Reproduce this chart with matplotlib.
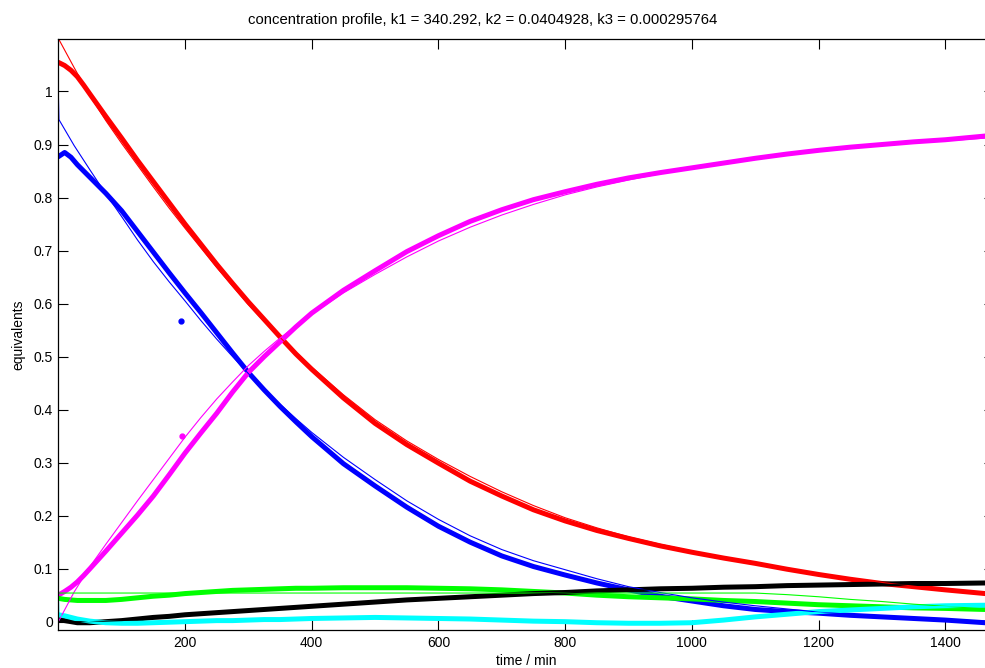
import numpy as np
import matplotlib
matplotlib.use("Agg")
import matplotlib.pyplot as plt

plt.rcParams['font.family'] = ['Liberation Sans', 'DejaVu Sans']

t_data = [0, 10, 20, 30, 40, 50, 75, 100, 125, 150, 175, 200, 225, 250, 275, 300, 325, 350, 375, 400,
          450, 500, 550, 600, 650, 700, 750, 800, 850, 900, 950, 1000, 1050, 1100, 1150, 1200,
          1250, 1300, 1350, 1400, 1463]
red_data = [1.055, 1.049, 1.040, 1.028, 1.012, 0.995, 0.953, 0.912, 0.870, 0.830, 0.790, 0.750, 0.712,
            0.674, 0.638, 0.603, 0.570, 0.537, 0.505, 0.476, 0.422, 0.374, 0.334, 0.299, 0.265, 0.237,
            0.211, 0.190, 0.172, 0.157, 0.143, 0.131, 0.120, 0.110, 0.099, 0.089, 0.080, 0.072, 0.066,
            0.060, 0.053]
blue_data = [0.877, 0.885, 0.876, 0.862, 0.850, 0.838, 0.808, 0.775, 0.736, 0.697, 0.658, 0.620, 0.583,
             0.545, 0.507, 0.470, 0.437, 0.406, 0.377, 0.349, 0.298, 0.256, 0.216, 0.180, 0.150, 0.124,
             0.104, 0.088, 0.073, 0.060, 0.048, 0.039, 0.030, 0.023, 0.019, 0.016, 0.012, 0.009, 0.006,
             0.003, -0.002]
magenta_data = [0.050, 0.057, 0.065, 0.075, 0.087, 0.100, 0.133, 0.167, 0.201, 0.237, 0.277, 0.318, 0.356,
                0.393, 0.433, 0.470, 0.500, 0.528, 0.556, 0.582, 0.625, 0.662, 0.698, 0.728, 0.755, 0.777,
                0.796, 0.811, 0.825, 0.837, 0.847, 0.856, 0.865, 0.874, 0.882, 0.889, 0.895, 0.900, 0.905,
                0.909, 0.916]
green_data = [0.044, 0.042, 0.041, 0.040, 0.040, 0.040, 0.040, 0.042, 0.045, 0.048, 0.050, 0.053, 0.055,
              0.057, 0.059, 0.060, 0.061, 0.062, 0.063, 0.063, 0.064, 0.064, 0.064, 0.063, 0.062, 0.060,
              0.057, 0.054, 0.050, 0.047, 0.045, 0.043, 0.040, 0.038, 0.035, 0.032, 0.030, 0.028, 0.026,
              0.025, 0.023]
black_data = [0.004, 0.002, 0.000, -0.002, -0.002, -0.002, 0.000, 0.002, 0.005, 0.008, 0.010, 0.013, 0.015,
              0.017, 0.019, 0.021, 0.023, 0.025, 0.027, 0.029, 0.033, 0.037, 0.041, 0.044, 0.047, 0.050,
              0.053, 0.055, 0.058, 0.060, 0.062, 0.063, 0.065, 0.066, 0.068, 0.069, 0.070, 0.071, 0.072,
              0.072, 0.073]
cyan_data = [0.013, 0.011, 0.008, 0.005, 0.003, 0.001, -0.002, -0.003, -0.003, -0.002, -0.001, 0.000, 0.001,
             0.002, 0.002, 0.003, 0.004, 0.004, 0.005, 0.006, 0.007, 0.008, 0.007, 0.006, 0.005, 0.003,
             0.001, 0.000, -0.002, -0.003, -0.003, -0.002, 0.003, 0.009, 0.014, 0.019, 0.022, 0.025, 0.028,
             0.030, 0.031]

# a couple of stray points
blue_outlier = (194, 0.567)
magenta_outlier = (195, 0.35)

# fitted model curves
t_fit = [0, 1, 25, 50, 75, 100, 125, 150, 175, 200, 225, 250, 275, 300, 325, 350, 375, 400, 450, 500,
         550, 600, 650, 700, 750, 800, 850, 900, 950, 1000, 1050, 1100, 1150, 1200, 1250, 1300, 1350,
         1400, 1463]
red_fit = [1.100, 1.098, 1.045, 0.992, 0.945, 0.902, 0.861, 0.820, 0.780, 0.742, 0.705, 0.668, 0.633,
           0.598, 0.566, 0.536, 0.508, 0.480, 0.428, 0.381, 0.341, 0.306, 0.274, 0.245, 0.219, 0.196,
           0.177, 0.160, 0.146, 0.133, 0.121, 0.110, 0.100, 0.090, 0.082, 0.074, 0.067, 0.061, 0.054]
blue_fit = [1.000, 0.947, 0.898, 0.852, 0.807, 0.764, 0.720, 0.679, 0.641, 0.605, 0.568, 0.533, 0.500,
            0.468, 0.438, 0.410, 0.383, 0.357, 0.310, 0.268, 0.228, 0.193, 0.162, 0.136, 0.115, 0.098,
            0.081, 0.066, 0.055, 0.045, 0.037, 0.030, 0.024, 0.018, 0.014, 0.010, 0.007, 0.004, 0.001]
magenta_fit = [0.000, 0.002, 0.056, 0.104, 0.146, 0.187, 0.228, 0.268, 0.308, 0.348, 0.385, 0.420, 0.452,
               0.483, 0.510, 0.535, 0.558, 0.580, 0.620, 0.655, 0.688, 0.718, 0.744, 0.767, 0.787, 0.805,
               0.820, 0.833, 0.845, 0.855, 0.864, 0.872, 0.880, 0.887, 0.893, 0.898, 0.903, 0.907, 0.912]
green_fit = [0.054, 0.054, 0.054, 0.054, 0.054, 0.054, 0.054, 0.054, 0.054, 0.054, 0.054, 0.054, 0.054,
             0.054, 0.054, 0.054, 0.054, 0.054, 0.054, 0.054, 0.054, 0.054, 0.054, 0.054, 0.054, 0.054,
             0.054, 0.054, 0.054, 0.054, 0.054, 0.054, 0.051, 0.047, 0.042, 0.038, 0.033, 0.029, 0.024]
black_fit = [0.000, 0.000, 0.000, 0.000, 0.001, 0.002, 0.004, 0.007, 0.009, 0.012, 0.014, 0.016, 0.018,
             0.020, 0.022, 0.024, 0.026, 0.028, 0.032, 0.036, 0.040, 0.043, 0.046, 0.049, 0.052, 0.054,
             0.057, 0.059, 0.061, 0.062, 0.064, 0.065, 0.067, 0.068, 0.069, 0.070, 0.071, 0.071, 0.072]
cyan_fit = [0.054, 0.012, 0.004, 0.000, -0.002, -0.002, -0.002, -0.002, -0.001, 0.000, 0.001, 0.002, 0.002,
            0.003, 0.004, 0.004, 0.005, 0.006, 0.007, 0.007, 0.007, 0.006, 0.005, 0.003, 0.001, 0.000,
            -0.001, -0.002, -0.002, -0.001, 0.003, 0.008, 0.013, 0.018, 0.021, 0.024, 0.027, 0.029, 0.031]

x_ticks = [200, 400, 600, 800, 1000, 1200, 1400]
y_ticks = [0, 0.1, 0.2, 0.3, 0.4, 0.5, 0.6, 0.7, 0.8, 0.9, 1]
y_ticklabels = ['0', '0.1', '0.2', '0.3', '0.4', '0.5', '0.6', '0.7', '0.8', '0.9', '1']

fig = plt.figure(figsize=(9.85, 6.68), dpi=100)
ax = fig.add_axes([0.0592, 0.0569, 0.95, 0.8847])

series = [
    (blue_data, blue_fit, (0, 0, 1)),
    (red_data, red_fit, (1, 0, 0)),
    (magenta_data, magenta_fit, (1, 0, 1)),
    (green_data, green_fit, (0, 1, 0)),
    (black_data, black_fit, (0, 0, 0)),
    (cyan_data, cyan_fit, (0, 1, 1)),
]
for data, fit, col in series:
    ax.plot(t_data, data, color=col, lw=3.6, solid_capstyle='round', solid_joinstyle='round')
for data, fit, col in series:
    ax.plot(t_fit, fit, color=col, lw=0.8)

ax.plot([blue_outlier[0]], [blue_outlier[1]], 'o', color=(0, 0, 1), ms=3.5)
ax.plot([magenta_outlier[0]], [magenta_outlier[1]], 'o', color=(1, 0, 1), ms=3.5)

ax.set_xlim(0, 1477)
ax.set_ylim(-0.0157, 1.099)
ax.set_xticks(x_ticks)
ax.set_xticklabels([str(v) for v in x_ticks])
ax.set_yticks(y_ticks)
ax.set_yticklabels(y_ticklabels)
ax.tick_params(direction='in', length=7, width=0.8, top=True, right=True, labelsize=10, pad=4)
for s in ax.spines.values():
    s.set_linewidth(0.9)

ax.set_xlabel('time / min', fontsize=10, labelpad=3)
ax.set_ylabel('equivalents', fontsize=10, labelpad=6)
ax.text(0.453, 1.02, 'concentration profile, k1 = 340.292, k2 = 0.0404928, k3 = 0.000295764',
        transform=ax.transAxes, ha='center', va='bottom', fontsize=10.7)

fig.savefig('out.png', dpi=100)
